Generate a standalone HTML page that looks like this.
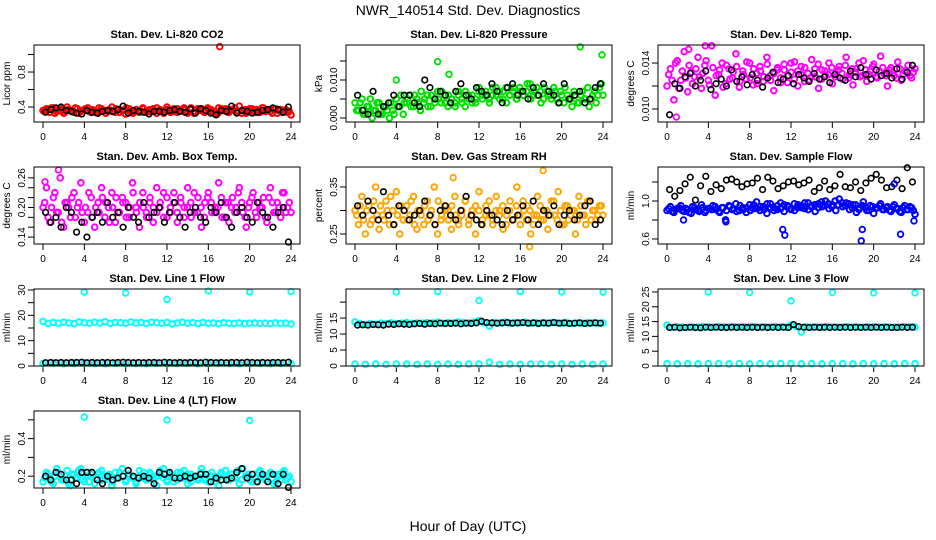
<!DOCTYPE html>
<html><head><meta charset="utf-8"><style>
body{margin:0;background:#fff}
svg{display:block;font-family:"Liberation Sans",sans-serif}
</style></head><body>
<svg id="chart" width="936" height="540" viewBox="0 0 936 540" xmlns="http://www.w3.org/2000/svg">
<rect width="936" height="540" fill="#fff"/>
<text x="468" y="15" text-anchor="middle" font-size="14">NWR_140514  Std. Dev. Diagnostics</text>
<text x="468" y="531" text-anchor="middle" font-size="14">Hour of Day (UTC)</text>
</svg>
<script>
const co2Red=[0.36,0.38,0.34,0.39,0.35,0.37,0.33,0.40,0.36,0.34,0.38,0.35,0.37,0.39,0.34,0.36,0.33,0.38,0.36,0.35,0.40,0.34,0.37,0.36,0.32,0.38,0.35,0.37,0.34,0.39,0.36,0.35,0.38,0.33,0.37,0.36,0.40,0.34,0.35,0.38,0.36,0.37,0.33,0.39,0.35,0.36,0.38,0.34,0.37,0.35,0.32,0.39,0.36,0.38,0.34,0.37,0.35,0.41,0.36,0.33,0.38,0.35,0.37,0.34,0.39,0.36,0.35,0.38,0.33,0.37,0.36,0.34,0.31];
const co2RedB=[0.35,0.37,0.39,0.33,0.36,0.38,0.34,0.37,0.35,0.39,0.33,0.36,0.38,0.35,0.37,0.34,0.39,0.36,0.33,0.37,0.35,0.38,0.34,0.36,0.39,0.35,0.33,0.37,0.36,0.38,0.34,0.37,0.35,0.39,0.36,0.33,0.37,0.35,0.38,0.34,0.36,0.39,0.35,0.37,0.33,0.38,0.36,0.34,0.39,0.37,0.35,0.33,0.38,0.36,0.34,0.37,0.39,0.35,0.33,0.37,0.36,0.38,0.34,0.36,0.39,0.35,0.37,0.33,0.38,0.36,0.34,0.37,0.35];
const co2Black=[0.34,0.37,0.39,0.40,0.36,0.35,0.33,0.32,0.36,0.34,0.33,0.35,0.36,0.35,0.37,0.41,0.33,0.36,0.35,0.34,0.32,0.35,0.35,0.34,0.36,0.37,0.35,0.34,0.38,0.33,0.38,0.36,0.33,0.31,0.36,0.35,0.41,0.33,0.36,0.35,0.33,0.34,0.36,0.37,0.39,0.37,0.34,0.40];
const co2OutX=[17.1], co2OutY=[1.09];
const presGreen=[0.004,0.002,0.005,0.001,0.003,0.000,0.002,0.004,0.001,0.003,0.000,0.002,0.005,0.003,0.001,0.004,0.006,0.003,0.005,0.002,0.004,0.006,0.003,0.005,0.007,0.004,0.006,0.003,0.005,0.004,0.007,0.005,0.003,0.006,0.004,0.005,0.007,0.005,0.006,0.004,0.008,0.006,0.005,0.007,0.004,0.006,0.008,0.005,0.007,0.006,0.009,0.005,0.007,0.006,0.004,0.008,0.006,0.005,0.007,0.004,0.006,0.008,0.005,0.003,0.006,0.004,0.007,0.005,0.003,0.006,0.004,0.008,0.006];
const presGreenB=[0.002,0.004,0.001,0.003,0.005,0.002,0.004,0.001,0.003,0.002,0.004,0.001,0.003,0.006,0.004,0.005,0.003,0.006,0.004,0.007,0.005,0.003,0.006,0.004,0.005,0.007,0.004,0.006,0.005,0.003,0.006,0.004,0.007,0.005,0.006,0.004,0.008,0.006,0.007,0.005,0.006,0.008,0.007,0.005,0.008,0.006,0.007,0.005,0.008,0.006,0.007,0.009,0.006,0.008,0.007,0.005,0.007,0.006,0.008,0.005,0.007,0.004,0.006,0.005,0.007,0.004,0.006,0.005,0.008,0.005,0.007,0.006,0.009];
const presBlack=[0.006,0.002,0.001,0.007,0.001,0.003,0.004,0.006,0.003,0.006,0.006,0.004,0.003,0.010,0.008,0.005,0.007,0.006,0.004,0.007,0.009,0.006,0.005,0.008,0.007,0.006,0.009,0.007,0.004,0.008,0.009,0.006,0.007,0.005,0.008,0.006,0.009,0.007,0.006,0.004,0.009,0.005,0.006,0.007,0.004,0.005,0.008,0.009];
const presOutX=[8.0,9.1,4.0,21.8,23.9], presOutY=[0.0148,0.0115,0.0100,0.0187,0.0166];
const tempMag=[0.0120,0.0135,0.0108,0.0142,0.0125,0.0150,0.0115,0.0132,0.0128,0.0145,0.0118,0.0138,0.0125,0.0155,0.0112,0.0130,0.0140,0.0122,0.0135,0.0127,0.0148,0.0119,0.0133,0.0126,0.0140,0.0121,0.0131,0.0137,0.0124,0.0145,0.0129,0.0116,0.0134,0.0127,0.0139,0.0123,0.0132,0.0141,0.0120,0.0130,0.0136,0.0125,0.0143,0.0128,0.0118,0.0134,0.0129,0.0140,0.0122,0.0131,0.0137,0.0126,0.0145,0.0130,0.0121,0.0135,0.0128,0.0142,0.0124,0.0133,0.0139,0.0127,0.0146,0.0131,0.0120,0.0136,0.0129,0.0141,0.0125,0.0133,0.0138,0.0127,0.0135];
const tempMagB=[0.0130,0.0125,0.0140,0.0118,0.0133,0.0127,0.0138,0.0122,0.0135,0.0128,0.0131,0.0142,0.0121,0.0136,0.0129,0.0134,0.0119,0.0138,0.0126,0.0132,0.0137,0.0124,0.0130,0.0141,0.0127,0.0135,0.0122,0.0133,0.0128,0.0139,0.0125,0.0131,0.0136,0.0123,0.0134,0.0129,0.0140,0.0126,0.0133,0.0137,0.0124,0.0131,0.0128,0.0135,0.0139,0.0126,0.0133,0.0130,0.0136,0.0128,0.0134,0.0131,0.0138,0.0127,0.0135,0.0132,0.0140,0.0129,0.0134,0.0130,0.0137,0.0128,0.0133,0.0136,0.0129,0.0134,0.0131,0.0127,0.0135,0.0130,0.0133,0.0129,0.0132];
const tempBlack=[0.0095,0.0122,0.0118,0.0128,0.0131,0.0120,0.0125,0.0133,0.0117,0.0122,0.0126,0.0120,0.0134,0.0124,0.0128,0.0121,0.0130,0.0125,0.0119,0.0127,0.0132,0.0123,0.0126,0.0129,0.0122,0.0130,0.0127,0.0124,0.0131,0.0126,0.0128,0.0123,0.0130,0.0127,0.0125,0.0133,0.0128,0.0136,0.0130,0.0126,0.0134,0.0129,0.0131,0.0127,0.0135,0.0126,0.0132,0.0138];
const tempOutX=[3.7,0.9,2.1], tempOutY=[0.0155,0.0093,0.0152];
const boxMag=[0.20,0.24,0.17,0.22,0.19,0.26,0.16,0.21,0.18,0.23,0.20,0.25,0.17,0.19,0.22,0.16,0.21,0.24,0.18,0.20,0.23,0.17,0.19,0.22,0.21,0.18,0.25,0.20,0.16,0.23,0.19,0.21,0.17,0.24,0.20,0.18,0.22,0.19,0.23,0.17,0.21,0.20,0.24,0.18,0.19,0.22,0.16,0.21,0.23,0.19,0.20,0.25,0.18,0.21,0.17,0.22,0.20,0.24,0.19,0.16,0.21,0.23,0.18,0.20,0.22,0.17,0.24,0.19,0.21,0.18,0.23,0.20,0.19];
const boxMagB=[0.21,0.18,0.20,0.23,0.19,0.17,0.21,0.20,0.22,0.18,0.21,0.19,0.20,0.23,0.18,0.20,0.19,0.22,0.21,0.17,0.20,0.22,0.19,0.21,0.18,0.20,0.23,0.19,0.21,0.20,0.18,0.22,0.20,0.19,0.21,0.23,0.18,0.20,0.21,0.19,0.22,0.18,0.20,0.21,0.23,0.19,0.20,0.18,0.22,0.21,0.19,0.20,0.22,0.18,0.21,0.20,0.19,0.23,0.21,0.18,0.20,0.22,0.19,0.21,0.20,0.18,0.22,0.21,0.19,0.20,0.23,0.19,0.21];
const boxBlack=[0.19,0.17,0.18,0.16,0.20,0.19,0.15,0.17,0.14,0.18,0.19,0.17,0.21,0.18,0.19,0.16,0.20,0.18,0.17,0.21,0.18,0.19,0.20,0.17,0.19,0.21,0.18,0.16,0.19,0.20,0.18,0.17,0.20,0.19,0.21,0.18,0.16,0.19,0.20,0.18,0.17,0.21,0.19,0.18,0.16,0.19,0.20,0.13];
const boxOutX=[1.5,0.2], boxOutY=[0.276,0.252];
const rhOrange=[0.30,0.27,0.33,0.25,0.31,0.28,0.35,0.26,0.29,0.32,0.27,0.30,0.34,0.25,0.28,0.31,0.29,0.33,0.26,0.30,0.27,0.32,0.29,0.35,0.25,0.28,0.31,0.30,0.26,0.33,0.28,0.29,0.32,0.27,0.30,0.25,0.34,0.28,0.31,0.29,0.27,0.33,0.30,0.26,0.29,0.32,0.28,0.35,0.27,0.30,0.31,0.25,0.29,0.33,0.28,0.30,0.26,0.32,0.29,0.34,0.27,0.31,0.28,0.30,0.25,0.33,0.29,0.27,0.32,0.30,0.28,0.31,0.29];
const rhOrangeB=[0.29,0.31,0.28,0.30,0.27,0.32,0.29,0.31,0.28,0.30,0.33,0.27,0.29,0.31,0.30,0.28,0.32,0.27,0.30,0.29,0.31,0.28,0.30,0.27,0.32,0.29,0.30,0.28,0.31,0.29,0.27,0.30,0.32,0.28,0.29,0.31,0.30,0.27,0.29,0.32,0.28,0.30,0.29,0.31,0.27,0.30,0.28,0.31,0.29,0.32,0.28,0.30,0.27,0.29,0.31,0.28,0.30,0.29,0.32,0.28,0.30,0.27,0.31,0.29,0.30,0.28,0.31,0.29,0.32,0.28,0.30,0.29,0.31];
const rhBlack=[0.31,0.29,0.32,0.30,0.28,0.34,0.29,0.27,0.31,0.30,0.28,0.29,0.30,0.32,0.29,0.27,0.30,0.31,0.29,0.28,0.30,0.33,0.29,0.28,0.27,0.30,0.29,0.28,0.27,0.30,0.28,0.29,0.31,0.28,0.32,0.27,0.30,0.29,0.31,0.27,0.29,0.30,0.28,0.29,0.31,0.32,0.27,0.28];
const rhOutX=[16.9,18.2,9.5], rhOutY=[0.223,0.385,0.37];
const sfBlue=[0.90,0.94,0.88,0.92,0.95,0.89,0.91,0.87,0.93,0.90,0.96,0.88,0.92,0.91,0.94,0.89,0.93,0.80,0.95,0.91,0.97,0.90,0.93,0.88,0.96,0.92,0.99,0.90,0.94,0.87,0.97,0.93,0.91,0.98,0.89,0.95,0.92,0.90,0.96,0.93,0.98,0.91,0.95,0.89,0.97,0.94,1.00,0.92,0.96,0.90,1.02,0.94,0.98,0.91,0.96,0.88,0.93,0.99,0.90,0.95,0.87,0.93,0.97,0.91,0.94,0.89,0.96,0.92,0.88,0.95,0.91,0.93,0.86];
const sfBlueB=[0.92,0.89,0.91,0.93,0.90,0.92,0.88,0.94,0.91,0.89,0.93,0.90,0.92,0.95,0.91,0.88,0.93,0.90,0.94,0.92,0.89,0.95,0.91,0.93,0.90,0.96,0.92,0.94,0.91,0.97,0.93,0.90,0.95,0.92,0.96,0.94,0.91,0.97,0.93,0.95,0.92,0.98,0.94,0.96,0.93,0.99,0.95,0.97,0.94,1.00,0.96,0.98,0.95,0.97,0.93,0.96,0.91,0.95,0.93,0.90,0.94,0.92,0.95,0.91,0.93,0.90,0.94,0.92,0.89,0.93,0.91,0.94,0.90];
const sfBlack=[1.12,1.05,1.11,1.18,1.25,1.01,1.16,1.26,1.10,1.17,1.13,1.22,1.23,1.20,1.15,1.18,1.19,1.24,1.12,1.25,1.21,1.13,1.16,1.20,1.21,1.17,1.19,1.22,1.10,1.14,1.21,1.12,1.16,1.28,1.15,1.14,1.20,1.11,1.19,1.24,1.28,1.22,1.14,1.15,1.22,1.13,1.35,1.20];
const sfOutX=[5.7,11.2,11.4,18.8,18.9,22.6,23.9,1.6,22.0], sfOutY=[0.78,0.70,0.64,0.58,0.70,0.65,0.79,0.80,1.18];
const l1CyanHi=[17.6,16.8,17.2,16.9,17.3,17.0,16.7,17.4,17.1,16.9,17.3,17.0,17.5,16.8,17.2,17.1,16.9,17.4,17.0,17.2,16.8,17.3,17.1,16.9,17.2,16.6,17.0,17.3,16.9,17.1,16.8,17.2,16.9,17.0,16.7,17.1,16.9,16.8,17.0,16.7,16.9,17.0,16.8,16.9,16.7,17.0,16.8,16.9,16.6];
const l1CyanLo=[1.0,1.1,0.9,1.0,1.1,1.0,0.9,1.1,1.0,1.0,0.9,1.1,1.0,1.0,1.1,0.9,1.0,1.1,1.0,0.9,1.0,1.1,1.0,1.0,0.9];
const l1Black=[1.3,1.4,1.3,1.4,1.3,1.4,1.4,1.5,1.3,1.4,1.3,1.4,1.4,1.3,1.4,1.5,1.4,1.3,1.4,1.3,1.4,1.4,1.3,1.5,1.4,1.3,1.4,1.3,1.4,1.4,1.3,1.5,1.4,1.3,1.4,1.3,1.4,1.4,1.3,1.5,1.4,1.3,1.4,1.3,1.4,1.4,1.3,1.5];
const l1OutX=[4,8,12,16,20,24], l1OutY=[29.2,28.8,26.3,29.6,29.2,29.4];
const l2CyanHi=[13.8,13.2,13.0,13.3,13.1,13.4,13.2,13.5,13.3,13.4,13.6,13.3,13.5,13.4,13.6,13.5,13.7,13.4,13.6,13.5,13.8,13.6,13.5,13.7,14.2,13.5,12.5,13.6,13.5,13.7,13.4,13.6,13.5,13.7,13.4,13.6,13.5,13.4,13.6,13.5,13.4,13.6,13.3,13.5,13.4,13.6,13.5,13.4,13.5];
const l2CyanLo=[0.6,0.5,0.6,0.5,0.6,0.6,0.5,0.6,0.5,0.6,0.5,0.6,0.6,1.2,0.5,0.6,0.5,0.6,0.6,0.5,0.6,0.5,0.6,0.5,0.6];
const l2Black=[12.8,12.9,12.8,13.0,12.9,12.8,13.1,13.0,13.2,13.1,13.0,13.2,13.3,13.1,13.3,13.2,13.4,13.3,13.3,13.4,13.2,13.4,13.3,13.5,14.0,13.6,13.5,13.4,13.5,13.6,13.4,13.5,13.6,13.4,13.5,13.3,13.5,13.4,13.6,13.4,13.5,13.3,13.4,13.5,13.3,13.4,13.5,13.4];
const l2OutX=[4,8,12,16,20,24], l2OutY=[23.2,23.3,20.5,23.3,23.2,23.1];
const l3CyanHi=[13.8,13.0,13.2,13.1,13.0,13.2,13.1,13.3,13.2,13.1,13.3,13.2,13.1,13.3,13.2,13.1,13.2,13.3,13.1,13.2,13.1,13.3,13.2,13.1,13.8,13.3,11.5,13.2,13.1,13.2,13.1,13.3,13.2,13.1,13.2,13.3,13.1,13.2,13.1,13.2,13.3,13.1,13.2,13.1,13.2,13.1,13.3,13.2,13.1];
const l3CyanLo=[0.8,0.7,0.8,0.7,0.8,0.8,0.7,0.8,0.7,0.8,0.7,0.8,0.8,0.7,0.8,0.7,0.8,0.8,0.7,0.8,0.7,0.8,0.7,0.8,0.8];
const l3Black=[13.0,13.1,12.9,13.0,13.1,13.0,12.9,13.1,13.0,13.1,13.0,13.0,13.1,13.0,13.1,13.0,13.1,13.0,13.1,13.0,13.1,13.0,13.1,13.0,14.0,13.3,13.1,13.0,13.1,13.0,13.1,13.0,13.1,13.0,13.1,13.0,13.1,13.0,13.1,13.0,13.1,13.0,13.1,13.0,13.0,13.1,13.0,13.1];
const l3OutX=[4,8,12,16,20,24], l3OutY=[25.0,24.8,22.0,24.8,24.7,24.7];
const l4Cyan=[0.17,0.22,0.19,0.16,0.24,0.20,0.18,0.23,0.15,0.21,0.19,0.24,0.17,0.20,0.22,0.16,0.21,0.23,0.18,0.20,0.15,0.22,0.19,0.24,0.17,0.21,0.20,0.16,0.23,0.19,0.18,0.22,0.20,0.15,0.21,0.24,0.18,0.20,0.17,0.22,0.19,0.23,0.16,0.21,0.20,0.18,0.24,0.19,0.17,0.22,0.20,0.15,0.21,0.23,0.18,0.19,0.22,0.16,0.24,0.20,0.18,0.21,0.17,0.23,0.19,0.20,0.22,0.16,0.21,0.18,0.23,0.19,0.17];
const l4CyanB=[0.19,0.21,0.17,0.20,0.22,0.18,0.20,0.16,0.21,0.19,0.23,0.18,0.20,0.17,0.21,0.19,0.22,0.18,0.20,0.21,0.17,0.19,0.22,0.20,0.18,0.21,0.19,0.17,0.20,0.22,0.19,0.21,0.18,0.20,0.23,0.19,0.17,0.21,0.20,0.18,0.22,0.19,0.21,0.17,0.20,0.19,0.22,0.18,0.21,0.20,0.17,0.19,0.22,0.20,0.18,0.21,0.19,0.23,0.18,0.20,0.21,0.17,0.19,0.22,0.20,0.18,0.21,0.19,0.17,0.20,0.22,0.18,0.20];
const l4Black=[0.20,0.18,0.22,0.21,0.18,0.18,0.16,0.22,0.22,0.22,0.18,0.16,0.20,0.18,0.19,0.20,0.23,0.20,0.19,0.20,0.19,0.16,0.22,0.21,0.22,0.19,0.19,0.20,0.19,0.20,0.21,0.21,0.17,0.19,0.18,0.18,0.19,0.22,0.24,0.19,0.21,0.17,0.21,0.17,0.21,0.16,0.21,0.14];
const l4OutX=[4,12,20], l4OutY=[0.515,0.50,0.497];
const hourTicks=[0,4,8,12,16,20,24];

const svg=document.getElementById('chart');
const NS='http://www.w3.org/2000/svg';
function mk(tag,attrs,parent){const e=document.createElementNS(NS,tag);for(const k in attrs)e.setAttribute(k,attrs[k]);(parent||svg).appendChild(e);return e;}

const panels=[
 {name:'co2',title:'Stan. Dev. Li-820 CO2',ylab:'Licor ppm',lo:0.229,hi:1.109,ticks:[0.4,0.6,0.8,1.0],labels:['0.4','','0.8',''],series:[[co2Red,'#ff0000',0],[co2RedB,'#ff0000',1],[co2Black,'#000000',1]],out:[co2OutX,co2OutY,'#ff0000']},
 {name:'pressure',title:'Stan. Dev. Li-820 Pressure',ylab:'kPa',lo:-0.00105,hi:0.0192,ticks:[0,0.005,0.010,0.015],labels:['0.000','','0.010',''],series:[[presGreen,'#00dd00',0],[presGreenB,'#00dd00',1],[presBlack,'#000000',1]],out:[presOutX,presOutY,'#00dd00']},
 {name:'temp',title:'Stan. Dev. Li-820 Temp.',ylab:'degrees C',lo:0.00887,hi:0.01557,ticks:[0.010,0.012,0.014],labels:['0.010','','0.014'],series:[[tempMag,'#ff00ff',0],[tempMagB,'#ff00ff',1],[tempBlack,'#000000',1]],out:[tempOutX,tempOutY,'#ff00ff']},
 {name:'box-temp',title:'Stan. Dev. Amb. Box Temp.',ylab:'degrees C',lo:0.126,hi:0.282,ticks:[0.14,0.16,0.18,0.20,0.22,0.24,0.26],labels:['0.14','','','0.20','','','0.26'],series:[[boxMag,'#ff00ff',0],[boxMagB,'#ff00ff',1],[boxBlack,'#000000',1]],out:[boxOutX,boxOutY,'#ff00ff']},
 {name:'rh',title:'Stan. Dev. Gas Stream RH',ylab:'percent',lo:0.2287,hi:0.3926,ticks:[0.25,0.30,0.35],labels:['0.25','','0.35'],series:[[rhOrange,'#ffa500',0],[rhOrangeB,'#ffa500',1],[rhBlack,'#000000',1]],out:[rhOutX,rhOutY,'#ffa500']},
 {name:'sample-flow',title:'Stan. Dev. Sample Flow',ylab:'ml/min',lo:0.547,hi:1.358,ticks:[0.6,0.8,1.0,1.2],labels:['0.6','','1.0',''],series:[[sfBlue,'#0000ff',0],[sfBlueB,'#0000ff',1],[sfBlack,'#000000',1]],out:[sfOutX,sfOutY,'#0000ff']},
 {name:'line1-flow',title:'Stan. Dev. Line 1 Flow',ylab:'ml/min',lo:0,hi:30.4,ticks:[0,5,10,15,20,25,30],labels:['0','','10','','20','','30'],series:[[l1CyanHi,'#00ffff',0],[l1CyanLo,'#00ffff',0],[l1Black,'#000000',1]],out:[l1OutX,l1OutY,'#00ffff']},
 {name:'line2-flow',title:'Stan. Dev. Line 2 Flow',ylab:'ml/min',lo:0,hi:24.1,ticks:[0,5,10,15,20],labels:['0','5','10','15',''],series:[[l2CyanHi,'#00ffff',0],[l2CyanLo,'#00ffff',0],[l2Black,'#000000',1]],out:[l2OutX,l2OutY,'#00ffff']},
 {name:'line3-flow',title:'Stan. Dev. Line 3 Flow',ylab:'ml/min',lo:0,hi:26,ticks:[0,5,10,15,20,25],labels:['0','5','10','15','20','25'],series:[[l3CyanHi,'#00ffff',0],[l3CyanLo,'#00ffff',0],[l3Black,'#000000',1]],out:[l3OutX,l3OutY,'#00ffff']},
 {name:'line4-flow',title:'Stan. Dev. Line 4 (LT) Flow',ylab:'ml/min',lo:0.137,hi:0.547,ticks:[0.2,0.3,0.4,0.5],labels:['0.2','','0.4',''],series:[[l4Cyan,'#00ffff',0],[l4CyanB,'#00ffff',1],[l4Black,'#000000',1]],out:[l4OutX,l4OutY,'#00ffff']}
];

panels.forEach((p,idx)=>{
  const col=idx%3,row=Math.floor(idx/3);
  const L=34+col*312,R=300+col*312,T=45+row*122,B=T+77;
  const x0=43+col*312,x1=291+col*312;
  const xs=h=>x0+(x1-x0)*h/24;
  const ys=v=>B-(B-T)*(v-p.lo)/(p.hi-p.lo);
  const g=mk('g',{});
  
  
  const t=mk('text',{x:(L+R)/2,y:T-7,'text-anchor':'middle','font-size':11,'font-weight':'bold'},g);
  t.textContent=p.title;
  
  
  const yl=mk('text',{x:0,y:0,transform:`translate(${L-24},${(T+B)/2}) rotate(-90)`,'text-anchor':'middle','font-size':10},g);
  yl.textContent=p.ylab;
  
  
  hourTicks.forEach(h=>{
    const tk=mk('line',{x1:xs(h),x2:xs(h),y1:B,y2:B+6,stroke:'#000','stroke-width':1},g);
    
    
    const tl=mk('text',{x:xs(h),y:B+18,'text-anchor':'middle','font-size':10},g);
    tl.textContent=String(h);
    
    
  });
  p.ticks.forEach((v,i)=>{
    const y=ys(v);
    const tk=mk('line',{x1:L-6,x2:L,y1:y,y2:y,stroke:'#000','stroke-width':1},g);
    
    
    if(p.labels[i]){
      const tl=mk('text',{x:0,y:0,transform:`translate(${L-9},${y}) rotate(-90)`,'text-anchor':'middle','font-size':10},g);
      tl.textContent=p.labels[i];
      
      
    }
  });
  p.series.forEach(s=>{
    const arr=s[0],colr=s[1],mid=s[2],black=colr==='#000000';
    const n=arr.length;
    arr.forEach((v,i)=>{
      const h=mid?(i+0.5)*24/n:i*24/(n-1);
      const c=mk('circle',{cx:xs(h),cy:ys(v),r:2.8,fill:'none',stroke:colr,'stroke-width':black?1.6:2},g);
      
      
    });
  });
  const o=p.out;
  o[0].forEach((h,i)=>{
    const c=mk('circle',{cx:xs(h),cy:ys(o[1][i]),r:2.8,fill:'none',stroke:o[2],'stroke-width':1.8},g);
    
    
  });
  const fr=mk('rect',{x:L,y:T,width:R-L,height:B-T,fill:'none',stroke:'#000','stroke-width':1},g);
  
  
});
</script>
</body></html>
